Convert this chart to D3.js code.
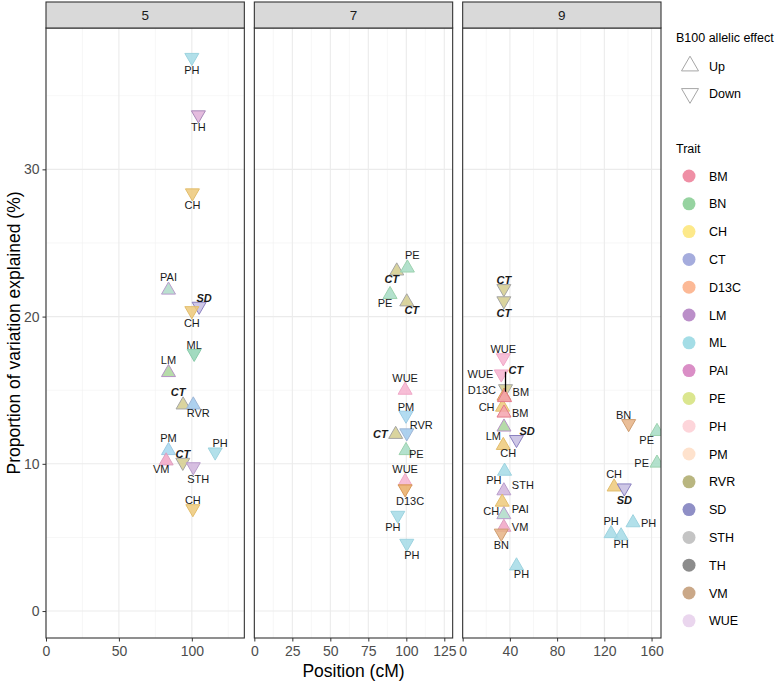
<!DOCTYPE html>
<html><head><meta charset="utf-8">
<script src="https://cdn.jsdelivr.net/npm/d3@7"></script>
<style>body{margin:0;background:#fff;} svg{display:block;font-family:"Liberation Sans", Arial, sans-serif;}</style>
</head><body><svg id="c" width="777" height="682"></svg>
<script>
// ---------------- data ----------------
const panels = ["5", "7", "9"];
const xDomains = { "5": [0, 136], "7": [0, 130.5], "9": [0, 168] };
const xTicks = { "5": [0, 50, 100], "7": [0, 25, 50, 75, 100, 125], "9": [0, 40, 80, 120, 160] };
const xMinor = { "5": [25, 75, 125], "7": [12.5, 37.5, 62.5, 87.5, 112.5], "9": [20, 60, 100, 140] };
const yTicks = [0, 10, 20, 30];
const yMinor = [5, 15, 25, 35];
const yDomain = [-1.83, 39.6];
const traits = ["BM", "BN", "CH", "CT", "D13C", "LM", "ML", "PAI", "PE", "PH", "PM", "RVR", "SD", "STH", "TH", "VM", "WUE"];
const legendColors = ["#ef8fa5", "#96d3a0", "#fde98a", "#a5acdd", "#fcb996", "#bb8fc9", "#a4dde6", "#da8ec6", "#dbe68f", "#fdd5da", "#fee2cd", "#b9b680", "#8f8fc6", "#c4c4c4", "#8c8c8c", "#caa888", "#ead6ee"];
const effects = ["Up", "Down"];
// [trait, position (cM), PVE (%), B100 effect, label placement]
const chr5 = [
  ["PH", 100, 37.6, "Down", "b"],
  ["TH", 104.5, 33.7, "Down", "b"],
  ["CH", 100.4, 28.4, "Down", "b"],
  ["PAI", 84, 21.8, "Up", "t"],
  ["SD", 105, 20.7, "Down", "t>"],
  ["CH", 100, 20.4, "Down", "b"],
  ["ML", 101.6, 17.5, "Down", "t"],
  ["LM", 84, 16.2, "Up", "t"],
  ["CT", 94, 14.0, "Up", "t<"],
  ["RVR", 101, 14.0, "Up", "b>"],
  ["PM", 84, 10.9, "Up", "t"],
  ["VM", 82.4, 10.2, "Up", "b<"],
  ["CT", 93.8, 10.1, "Down", "t"],
  ["STH", 101, 9.8, "Down", "b>"],
  ["PH", 116, 10.8, "Down", "t>"],
  ["CH", 100.7, 6.95, "Down", "t"]
];
const chr7 = [
  ["CT", 93.7, 23.1, "Up", "b<"],
  ["PE", 100.7, 23.3, "Up", "t>"],
  ["PE", 89.3, 21.5, "Up", "b<"],
  ["CT", 100.3, 21.0, "Up", "b>"],
  ["WUE", 99.2, 15.0, "Up", "t"],
  ["PM", 99.8, 13.3, "Down", "t"],
  ["CT", 93, 12.0, "Up", "l"],
  ["RVR", 100.3, 12.1, "Down", "tr"],
  ["PE", 99.8, 10.9, "Up", "br^"],
  ["WUE", 99.2, 8.8, "Up", "t"],
  ["D13C", 99.2, 8.3, "Down", "b>"],
  ["PH", 94.4, 6.5, "Down", "b<"],
  ["PH", 100.3, 4.6, "Down", "b>"]
];
const chr9 = [
  ["CT", 34.9, 21.9, "Down", "t"],
  ["CT", 34.9, 21.07, "Down", "b"],
  ["WUE", 34.4, 17.2, "Down", "t"],
  ["WUE", 32.7, 16.1, "Down", "l"],
  ["CT", 36.3, 15.1, "Down", "seg"],
  ["CH", 33.8, 13.85, "Up", "l"],
  ["D13C", 35, 14.6, "Up", "l^"],
  ["BM", 35.5, 14.5, "Up", "r^"],
  ["BM", 35, 13.45, "Up", "r"],
  ["LM", 35, 12.5, "Up", "bl"],
  ["SD", 45.6, 11.65, "Down", "tr"],
  ["CH", 34.4, 11.25, "Up", "b>"],
  ["PH", 35.5, 9.5, "Up", "bl"],
  ["STH", 34.9, 8.17, "Up", "r^"],
  ["CH", 33.5, 7.4, "Up", "bl"],
  ["PAI", 34.9, 6.55, "Up", "r^"],
  ["VM", 34.9, 5.69, "Up", "r"],
  ["BN", 32.7, 5.29, "Down", "b"],
  ["PH", 45.6, 3.07, "Up", "b>"],
  ["BN", 140.6, 12.73, "Down", "t<"],
  ["PE", 164.6, 12.2, "Up", "bl"],
  ["PE", 164.6, 10.05, "Up", "l"],
  ["CH", 128.3, 8.43, "Up", "t"],
  ["SD", 136.9, 8.36, "Down", "b"],
  ["PH", 144.3, 6.0, "Up", "r"],
  ["PH", 125.7, 5.26, "Up", "t"],
  ["PH", 134.2, 5.11, "Up", "b"]
];
const panelData = { "5": chr5, "7": chr7, "9": chr9 };

// ---------------- styles ----------------
const markFill = { BM: "#f5a3ad", BN: "#e6b386", CH: "#edc97a", CT: "#d4cc8d", D13C: "#e9ad66", LM: "#a9d59a",
  ML: "#92d5b5", PAI: "#aedbc8", PE: "#a6dcc4", PH: "#a4dbe6", PM: "#a6d6ee", RVR: "#9fc9ec", SD: "#c6bde2",
  STH: "#d0b4dc", TH: "#dfb0d8", VM: "#f1a4c4", WUE: "#f6b3cf" };
const markStroke = { BM: "#e47a8a", BN: "#cf9d70", CH: "#e2bd6c", CT: "#a5a5a5", D13C: "#d9995a", LM: "#b592c5",
  ML: "#88cbaa", PAI: "#b89ccc", PE: "#9cd2ae", PH: "#9dd3df", PM: "#9ccbe4", RVR: "#9fb6d6", SD: "#8a80c0",
  STH: "#b99dcb", TH: "#a888b8", VM: "#dca0c0", WUE: "#f0a8c8" };
const boldTraits = ["CT", "SD"];

const svg = d3.select("#c");
const plotLeft = 46, plotRight = 661, gap = 10;
const pw = (plotRight - plotLeft - gap * 2) / 3;
const plotTop = 28, plotBottom = 638;
const y = d3.scaleLinear().domain(yDomain).range([plotBottom, plotTop]);
const triSide = 14;
const triArea = Math.sqrt(3) / 4 * triSide * triSide;
const tri = d3.symbol().type(d3.symbolTriangle).size(triArea);
const triH = triSide * Math.sqrt(3) / 2;

function labelPos(code, eff) {
  const tp = eff === "Up" ? -triH * 2 / 3 : -triH / 3;
  const bt = eff === "Up" ? triH / 3 : triH * 2 / 3;
  let base = code.replace(/[<>^v]/g, "");
  let dx = 0, dy = 0, anchor = "middle";
  switch (base) {
    case "t": dy = tp - 0.5; break;
    case "b": dy = bt + 8; break;
    case "l": dx = -8; dy = 4; anchor = "end"; break;
    case "r": dx = 8; dy = 4; anchor = "start"; break;
    case "tr": dx = 3; dy = tp; anchor = "start"; break;
    case "tl": dx = -3; dy = tp; anchor = "end"; break;
    case "br": dx = 3; dy = bt + 9; anchor = "start"; break;
    case "bl": dx = -3; dy = bt + 9; anchor = "end"; break;
    case "seg": dx = 3; dy = -15; anchor = "start"; break;
  }
  if (code.includes("<")) dx -= 5;
  if (code.includes(">")) dx += 5;
  if (code.includes("^")) dy -= 6;
  if (code.includes("v")) dy += 6;
  return { dx, dy, anchor, seg: base === "seg" };
}

const defs = svg.append("defs");

panels.forEach((p, i) => {
  const x0 = plotLeft + i * (pw + gap), x1 = x0 + pw;
  const x = d3.scaleLinear().domain(xDomains[p]).range([x0, x1]);
  const g = svg.append("g");
  g.append("rect").attr("x", x0).attr("y", plotTop).attr("width", pw).attr("height", plotBottom - plotTop).attr("fill", "#fff");
  const gridC = "#ebebeb";
  g.selectAll(".ymin").data(yMinor).join("line").attr("x1", x0).attr("x2", x1)
    .attr("y1", d => y(d)).attr("y2", d => y(d)).attr("stroke", "#f2f2f2").attr("stroke-width", 0.6);
  g.selectAll(".xmin").data(xMinor[p]).join("line").attr("y1", plotTop).attr("y2", plotBottom)
    .attr("x1", d => x(d)).attr("x2", d => x(d)).attr("stroke", "#f2f2f2").attr("stroke-width", 0.6);
  g.selectAll(".ymaj").data(yTicks).join("line").attr("x1", x0).attr("x2", x1)
    .attr("y1", d => y(d)).attr("y2", d => y(d)).attr("stroke", gridC).attr("stroke-width", 1.1);
  g.selectAll(".xmaj").data(xTicks[p]).join("line").attr("y1", plotTop).attr("y2", plotBottom)
    .attr("x1", d => x(d)).attr("x2", d => x(d)).attr("stroke", gridC).attr("stroke-width", 1.1);

  defs.append("clipPath").attr("id", "clip" + p).append("rect")
    .attr("x", x0).attr("y", plotTop).attr("width", pw).attr("height", plotBottom - plotTop);

  const recs = panelData[p].map(r => ({ trait: r[0], pos: r[1], pve: r[2], eff: r[3], lab: r[4] }));
  const pts = g.append("g").attr("clip-path", "url(#clip" + p + ")");
  pts.selectAll("path").data(recs).join("path")
    .attr("d", tri)
    .attr("transform", d => `translate(${x(d.pos)},${y(d.pve)}) rotate(${d.eff === "Up" ? 0 : 180})`)
    .attr("fill", d => markFill[d.trait]).attr("fill-opacity", 0.85)
    .attr("stroke", d => markStroke[d.trait]).attr("stroke-width", 1);

  const lg = g.append("g");
  recs.forEach(d => {
    const lp = labelPos(d.lab, d.eff);
    const px = x(d.pos), py = y(d.pve);
    if (lp.seg) {
      lg.append("line").attr("x1", px).attr("x2", px).attr("y1", py + 3).attr("y2", py - 17)
        .attr("stroke", "#000").attr("stroke-width", 1.3);
    }
    const bold = boldTraits.includes(d.trait);
    lg.append("text").attr("x", px + lp.dx).attr("y", py + lp.dy)
      .attr("text-anchor", lp.anchor).attr("font-size", 11)
      .attr("font-weight", bold ? "bold" : "normal").attr("font-style", bold ? "italic" : "normal")
      .attr("fill", "#1a1a1a").text(d.trait);
  });

  g.append("rect").attr("x", x0).attr("y", plotTop).attr("width", pw).attr("height", plotBottom - plotTop)
    .attr("fill", "none").attr("stroke", "#333").attr("stroke-width", 1.1);
  g.append("rect").attr("x", x0).attr("y", 2).attr("width", pw).attr("height", plotTop - 2)
    .attr("fill", "#d9d9d9").attr("stroke", "#333").attr("stroke-width", 1.1);
  g.append("text").attr("x", (x0 + x1) / 2).attr("y", 20).attr("text-anchor", "middle")
    .attr("font-size", 13.5).attr("fill", "#1a1a1a").text(p);

  const xa = g.append("g").attr("transform", `translate(0,${plotBottom})`)
    .call(d3.axisBottom(x).tickValues(xTicks[p]).tickSize(3.5).tickPadding(5).tickFormat(d3.format("d")));
  xa.select(".domain").remove();
  xa.selectAll("line").attr("stroke", "#333");
  xa.selectAll("text").attr("font-size", 14).attr("fill", "#4d4d4d").attr("font-family", null);

  if (i === 0) {
    const ya = svg.append("g").attr("transform", `translate(${x0},0)`)
      .call(d3.axisLeft(y).tickValues(yTicks).tickSize(3.5).tickPadding(3));
    ya.select(".domain").remove();
    ya.selectAll("line").attr("stroke", "#333");
    ya.selectAll("text").attr("font-size", 14).attr("fill", "#4d4d4d").attr("font-family", null);
  }
});

svg.append("text").attr("x", (plotLeft + plotRight) / 2).attr("y", 677).attr("text-anchor", "middle")
  .attr("font-size", 17.5).attr("fill", "#000").text("Position (cM)");
svg.append("text").attr("transform", `translate(20,${(plotTop + plotBottom) / 2}) rotate(-90)`).attr("text-anchor", "middle")
  .attr("font-size", 17.5).attr("fill", "#000").text("Proportion of variation explained (%)");

const lx = 676;
svg.append("text").attr("x", lx).attr("y", 42).attr("font-size", 12.5).attr("fill", "#000").text("B100 allelic effect");
const legTri = d3.symbol().type(d3.symbolTriangle).size(Math.sqrt(3) / 4 * 17 * 17);
effects.forEach((e, i) => {
  const cy = 66 + i * 27.5;
  svg.append("path").attr("d", legTri)
    .attr("transform", `translate(690,${cy}) rotate(${e === "Up" ? 0 : 180})`)
    .attr("fill", "none").attr("stroke", "#a6a6a6").attr("stroke-width", 1);
  svg.append("text").attr("x", 709).attr("y", cy + 4.5).attr("font-size", 12.5).attr("fill", "#000").text(e);
});
svg.append("text").attr("x", lx).attr("y", 153).attr("font-size", 12.5).attr("fill", "#000").text("Trait");
traits.forEach((t, i) => {
  const cy = 176 + i * 27.8;
  svg.append("circle").attr("cx", 689).attr("cy", cy).attr("r", 6.5).attr("fill", legendColors[i]);
  svg.append("text").attr("x", 709).attr("y", cy + 4.5).attr("font-size", 12.5).attr("fill", "#000").text(t);
});
</script></body></html>
